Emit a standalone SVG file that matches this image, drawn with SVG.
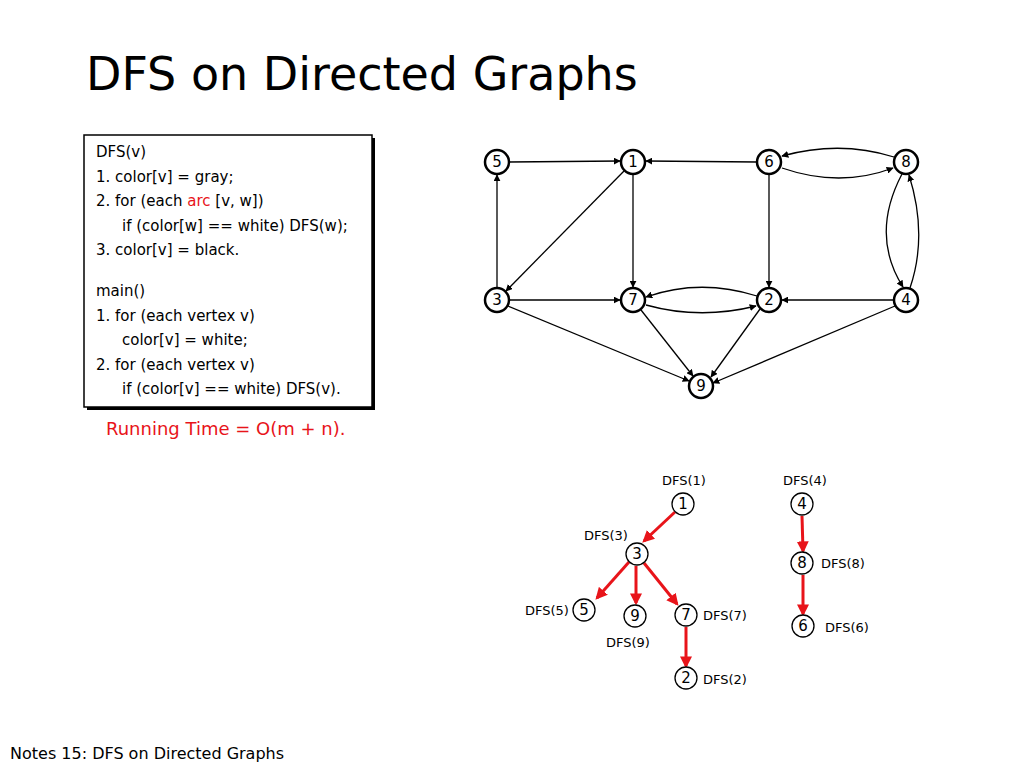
<svg xmlns="http://www.w3.org/2000/svg" width="1024" height="768" viewBox="0 0 1024 768">
<style>
text{font-family:Verdana,"DejaVu Sans",sans-serif;fill:#000}
.t{font-size:15px}
.g circle{fill:#fff;stroke:#000;stroke-width:2.5}
.g text{font-size:15px;text-anchor:middle}
.tr circle{fill:#fff;stroke:#000;stroke-width:1.3}
.tr text{font-size:15px;text-anchor:middle}
.e path{fill:none;stroke:#000;stroke-width:1.3}
.r path{fill:none;stroke:#e8141a;stroke-width:3}
.lb{font-size:13px}
</style>
<defs>
<marker id="a" viewBox="0 0 10 10" refX="9" refY="5" markerWidth="7" markerHeight="7" orient="auto" markerUnits="userSpaceOnUse"><path d="M0,0L10,5L0,10z" fill="#000"/></marker>
<marker id="ar" viewBox="0 0 10 10" refX="8" refY="5" markerWidth="4" markerHeight="4" orient="auto"><path d="M0,0L10,5L0,10z" fill="#e8141a"/></marker>
</defs>
<rect width="1024" height="768" fill="#fff"/>
<text x="86" y="90" style="font-size:46px;font-family:'DejaVu Sans',sans-serif">DFS on Directed Graphs</text>
<g id="code">
<rect x="87" y="138" width="288" height="272" fill="#000"/>
<rect x="84" y="135" width="288" height="272" fill="#fff" stroke="#000" stroke-width="1.5"/>
<text class="t" x="96" y="157">DFS(v)</text>
<text class="t" x="96" y="182">1. color[v] = gray;</text>
<text class="t" x="96" y="206">2. for (each <tspan fill="#e8141a">arc</tspan> [v, w])</text>
<text class="t" x="122" y="231">if (color[w] == white) DFS(w);</text>
<text class="t" x="96" y="255">3. color[v] = black.</text>
<text class="t" x="96" y="296">main()</text>
<text class="t" x="96" y="321">1. for (each vertex v)</text>
<text class="t" x="122" y="345">color[v] = white;</text>
<text class="t" x="96" y="370">2. for (each vertex v)</text>
<text class="t" x="122" y="394">if (color[v] == white) DFS(v).</text>
</g>
<text x="106" y="435" style="font-size:18px;fill:#e8141a">Running Time = O(m + n).</text>
<g id="edges" class="e">
<path d="M509,162L620,161" marker-end="url(#a)"/>
<path d="M757,162L646,161" marker-end="url(#a)"/>
<path d="M894,157Q840,140 782,156" marker-end="url(#a)"/>
<path d="M782,168Q840,188 893,168" marker-end="url(#a)"/>
<path d="M497,288L497,175" marker-end="url(#a)"/>
<path d="M624,171L506,291" marker-end="url(#a)"/>
<path d="M633,174L633,287" marker-end="url(#a)"/>
<path d="M769,174L769,287" marker-end="url(#a)"/>
<path d="M902,174Q870,235 903,287" marker-end="url(#a)"/>
<path d="M910,288Q928,235 909,175" marker-end="url(#a)"/>
<path d="M509,300L620,300" marker-end="url(#a)"/>
<path d="M757,296Q700,278 646,297" marker-end="url(#a)"/>
<path d="M646,305Q700,320 756,306" marker-end="url(#a)"/>
<path d="M894,300L782,300" marker-end="url(#a)"/>
<path d="M508,306L689,381" marker-end="url(#a)"/>
<path d="M641,310L693,376" marker-end="url(#a)"/>
<path d="M760,309L711,377" marker-end="url(#a)"/>
<path d="M895,306L713,383" marker-end="url(#a)"/>
</g>
<g class="g">
<g id="n5"><circle cx="497" cy="162" r="12"/><text x="497" y="167">5</text></g>
<g id="n1"><circle cx="633" cy="162" r="12"/><text x="633" y="167">1</text></g>
<g id="n6"><circle cx="769" cy="162" r="12"/><text x="769" y="167">6</text></g>
<g id="n8"><circle cx="906" cy="162" r="12"/><text x="906" y="167">8</text></g>
<g id="n3"><circle cx="497" cy="300" r="12"/><text x="497" y="305">3</text></g>
<g id="n7"><circle cx="633" cy="300" r="12"/><text x="633" y="305">7</text></g>
<g id="n2"><circle cx="769" cy="300" r="12"/><text x="769" y="305">2</text></g>
<g id="n4"><circle cx="906" cy="300" r="12"/><text x="906" y="305">4</text></g>
<g id="n9"><circle cx="701" cy="386" r="12"/><text x="701" y="391">9</text></g>
</g>
<g id="tree-edges" class="r">
<path d="M675,512L644,541" marker-end="url(#ar)"/>
<path d="M629,562L597,598" marker-end="url(#ar)"/>
<path d="M636,566L636,603" marker-end="url(#ar)"/>
<path d="M644,563L677,604" marker-end="url(#ar)"/>
<path d="M686,627L686,666" marker-end="url(#ar)"/>
<path d="M802,516L803,551" marker-end="url(#ar)"/>
<path d="M803,575L803,614" marker-end="url(#ar)"/>
</g>
<g class="tr">
<g id="t1"><circle cx="683" cy="504" r="11"/><text x="683" y="509">1</text></g>
<g id="t3"><circle cx="637" cy="554" r="11"/><text x="637" y="559">3</text></g>
<g id="t5"><circle cx="584" cy="610" r="11"/><text x="584" y="615">5</text></g>
<g id="t9"><circle cx="635" cy="616" r="11"/><text x="635" y="621">9</text></g>
<g id="t7"><circle cx="686" cy="615" r="11"/><text x="686" y="620">7</text></g>
<g id="t2"><circle cx="686" cy="678" r="11"/><text x="686" y="683">2</text></g>
<g id="t4"><circle cx="802" cy="504" r="11"/><text x="802" y="509">4</text></g>
<g id="t8"><circle cx="802" cy="563" r="11"/><text x="802" y="568">8</text></g>
<g id="t6"><circle cx="803" cy="626" r="11"/><text x="803" y="631">6</text></g>
</g>
<g id="labels">
<text class="lb" x="662" y="485">DFS(1)</text>
<text class="lb" x="584" y="540">DFS(3)</text>
<text class="lb" x="525" y="615">DFS(5)</text>
<text class="lb" x="606" y="647">DFS(9)</text>
<text class="lb" x="703" y="620">DFS(7)</text>
<text class="lb" x="703" y="684">DFS(2)</text>
<text class="lb" x="783" y="485">DFS(4)</text>
<text class="lb" x="821" y="568">DFS(8)</text>
<text class="lb" x="825" y="632">DFS(6)</text>
</g>
<text x="10" y="759" style="font-size:16px">Notes 15: DFS on Directed Graphs</text>
</svg>
